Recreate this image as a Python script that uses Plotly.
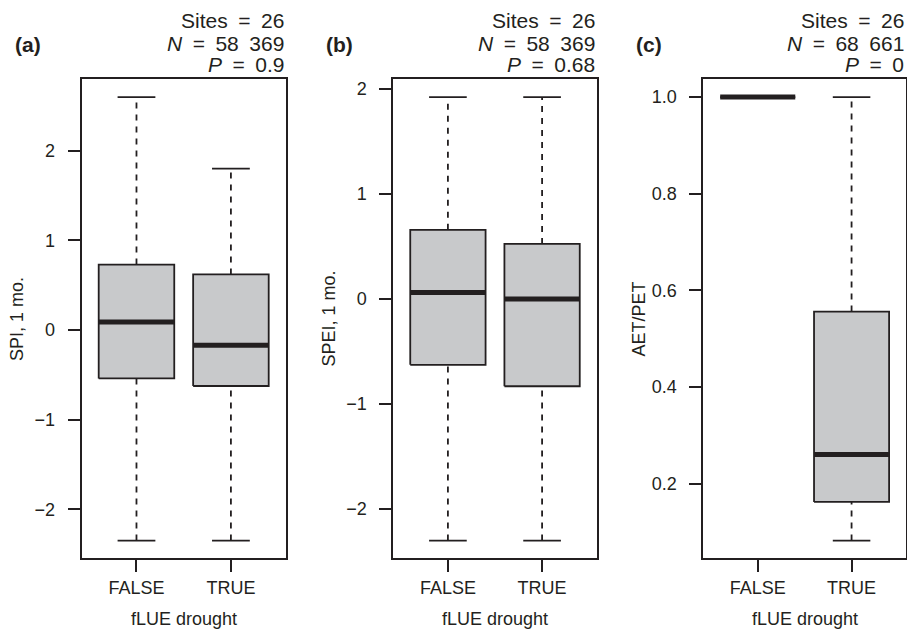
import plotly.graph_objects as go

# ---------------- data ----------------
categories = ["FALSE", "TRUE"]

spi_lower = [-2.35, -2.35]
spi_q1 = [-0.54, -0.625]
spi_median = [0.09, -0.17]
spi_q3 = [0.73, 0.62]
spi_upper = [2.60, 1.80]

spei_lower = [-2.30, -2.30]
spei_q1 = [-0.626, -0.83]
spei_median = [0.063, 0.0]
spei_q3 = [0.66, 0.526]
spei_upper = [1.925, 1.925]

aet_lower = [1.0, 0.082]
aet_q1 = [1.0, 0.162]
aet_median = [1.0, 0.26]
aet_q3 = [1.0, 0.556]
aet_upper = [1.0, 1.0]

panel_labels = ["(a)", "(b)", "(c)"]
y_titles = ["SPI, 1 mo.", "SPEI, 1 mo.", "AET/PET"]
x_title = "fLUE drought"
sites = ["26", "26", "26"]
n_obs = ["58 369", "58 369", "68 661"]
p_vals = ["0.9", "0.68", "0"]

# ---------------- style ----------------
W, H = 907, 631
DARK = "#231f20"
FILL = "#c8c9cb"
FONT = "Liberation Sans, Arial, Helvetica, sans-serif"
SP = "\u2002"

panels = [
    dict(lower=spi_lower, q1=spi_q1, med=spi_median, q3=spi_q3, upper=spi_upper,
         left=81.7, right=285.7, dtick=1, fmt="d"),
    dict(lower=spei_lower, q1=spei_q1, med=spei_median, q3=spei_q3, upper=spei_upper,
         left=393.3, right=596.7, dtick=1, fmt="d"),
    dict(lower=aet_lower, q1=aet_q1, med=aet_median, q3=aet_q3, upper=aet_upper,
         left=703.3, right=906.0, dtick=0.2, fmt=".1f"),
]
TOP_PX, BOT_PX = 79.3, 558.3
BOXW = 0.8

fig = go.Figure()
annotations = []

for k, p in enumerate(panels):
    xa = "x" if k == 0 else f"x{k+1}"
    ya = "y" if k == 0 else f"y{k+1}"
    for i in range(len(categories)):
        xc = i + 1
        x0, x1 = xc - BOXW / 2, xc + BOXW / 2
        c0, c1 = xc - BOXW / 4, xc + BOXW / 4
        # whiskers (dashed)
        for a, b in [(p["q3"][i], p["upper"][i]), (p["lower"][i], p["q1"][i])]:
            fig.add_trace(go.Scatter(x=[xc, xc], y=[a, b], mode="lines",
                                     line=dict(color=DARK, width=1.8, dash="6px,6px"),
                                     xaxis=xa, yaxis=ya, showlegend=False, hoverinfo="skip"))
        # staples
        for v in [p["upper"][i], p["lower"][i]]:
            fig.add_trace(go.Scatter(x=[c0, c1], y=[v, v], mode="lines",
                                     line=dict(color=DARK, width=1.8),
                                     xaxis=xa, yaxis=ya, showlegend=False, hoverinfo="skip"))
        # box
        fig.add_trace(go.Scatter(x=[x0, x1, x1, x0, x0],
                                 y=[p["q1"][i], p["q1"][i], p["q3"][i], p["q3"][i], p["q1"][i]],
                                 mode="lines", fill="toself", fillcolor=FILL,
                                 line=dict(color=DARK, width=1.8),
                                 xaxis=xa, yaxis=ya, showlegend=False, hoverinfo="skip"))
        # median
        fig.add_trace(go.Scatter(x=[x0, x1], y=[p["med"][i], p["med"][i]], mode="lines",
                                 line=dict(color=DARK, width=5),
                                 xaxis=xa, yaxis=ya, showlegend=False, hoverinfo="skip"))

    lo = min(p["lower"])
    hi = max(p["upper"])
    ext = (hi - lo) * 0.04
    dom_x = [p["left"] / W, p["right"] / W]
    dom_y = [1 - BOT_PX / H, 1 - TOP_PX / H]
    axis_common = dict(showline=True, mirror=True, linecolor=DARK, linewidth=2,
                       ticks="outside", ticklen=12, tickwidth=2, tickcolor=DARK,
                       showgrid=False, zeroline=False,
                       tickfont=dict(size=18, color=DARK, family=FONT))
    fig.update_layout(**{
        ("xaxis" if k == 0 else f"xaxis{k+1}"): dict(
            domain=dom_x, range=[0.5 - 0.08, len(categories) + 0.5 + 0.08],
            tickmode="array", tickvals=[1, 2], ticktext=categories,
            anchor=ya, **axis_common),
        ("yaxis" if k == 0 else f"yaxis{k+1}"): dict(
            domain=dom_y, range=[lo - ext, hi + ext], dtick=p["dtick"],
            tickformat=p["fmt"], anchor=xa, ticklabelstandoff=9, **axis_common),
    })

    xr = p["right"] / W
    # header lines
    annotations.append(dict(text=f"Sites{SP}={SP}{sites[k]}", x=xr, y=1 - 21 / H,
                            xanchor="right", yanchor="middle"))
    annotations.append(dict(text=f"<i>N</i>{SP}={SP}{n_obs[k].replace(' ', SP)}", x=xr, y=1 - 43 / H,
                            xanchor="right", yanchor="middle"))
    annotations.append(dict(text=f"<i>P</i>{SP}={SP}{p_vals[k]}", x=xr, y=1 - 65 / H,
                            xanchor="right", yanchor="middle"))
    # panel label
    annotations.append(dict(text=f"<b>{panel_labels[k]}</b>", x=(p["left"] - 69) / W,
                            y=1 - 44 / H, xanchor="left", yanchor="middle"))
    # axis titles
    annotations.append(dict(text=y_titles[k], x=(p["left"] - 64.5) / W, y=1 - (TOP_PX + BOT_PX) / 2 / H,
                            xanchor="center", yanchor="middle", textangle=-90, font_size=18))
    annotations.append(dict(text=x_title, x=(p["left"] + p["right"]) / 2 / W, y=1 - 619 / H,
                            xanchor="center", yanchor="middle", font_size=18))

for a in annotations:
    a.setdefault("font_size", 21)
    a["font"] = dict(size=a.pop("font_size"), color=DARK, family=FONT)
    a.update(xref="paper", yref="paper", showarrow=False)

fig.update_layout(width=W, height=H, margin=dict(l=0, r=0, t=0, b=0),
                  paper_bgcolor="white", plot_bgcolor="white",
                  annotations=annotations, showlegend=False)

fig.write_html("out.html", config={"displayModeBar": False},
               post_script="document.body.style.margin='0';document.body.style.overflow='hidden';")
